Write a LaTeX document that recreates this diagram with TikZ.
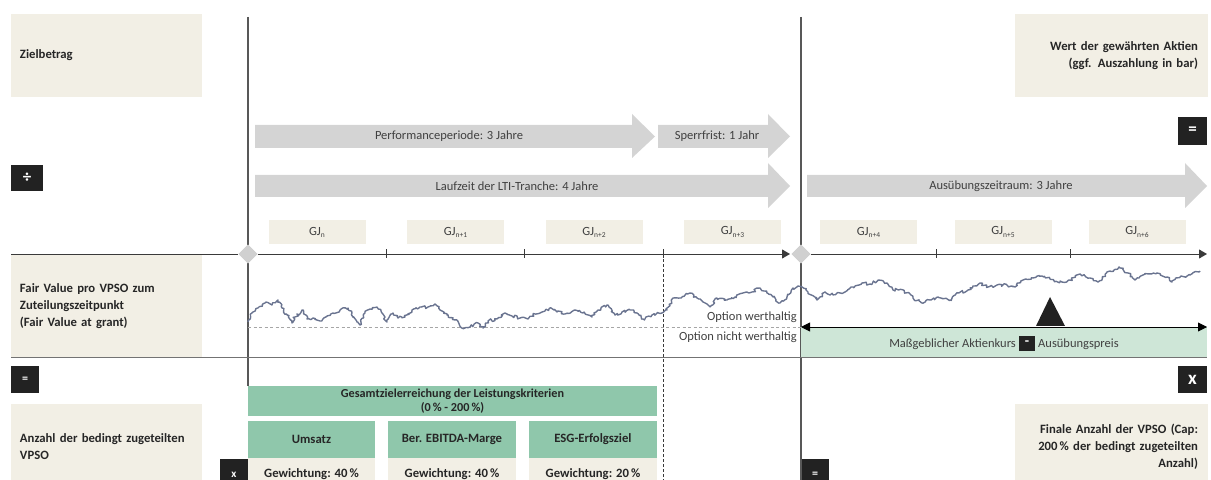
\documentclass[tikz,border=0pt]{standalone}
\usepackage{fontspec}
\setmainfont{Carlito}
\usetikzlibrary{arrows.meta,decorations.pathmorphing,shapes.geometric}
\definecolor{beige}{HTML}{F2EFE5}
\definecolor{greyarrow}{HTML}{D4D4D4}
\definecolor{greenhead}{HTML}{8FC7AB}
\definecolor{greenlight}{HTML}{CEE6D7}
\definecolor{blackbox}{HTML}{222222}
\definecolor{curvecol}{HTML}{6A7490}
\definecolor{axiscol}{HTML}{3A3A3A}
\definecolor{txtdark}{HTML}{262626}
\definecolor{txtgrey}{HTML}{404040}
\definecolor{diamondcol}{HTML}{D0D0D0}
\tikzset{
  boldtxt/.style={font=\fontsize{12.7bp}{17bp}\selectfont\bfseries, text=txtdark},
  regtxt/.style={font=\fontsize{12.5bp}{15bp}\selectfont, text=txtgrey},
  sidebox/.style={boldtxt, fill=beige, minimum width=191bp, text width=173bp, inner xsep=9bp, inner ysep=0pt},
  gjbox/.style={regtxt, fill=beige, minimum width=97bp, minimum height=24bp, inner sep=0pt},
  blkbox/.style={fill=blackbox, text=white, font=\fontsize{14bp}{14bp}\selectfont\bfseries, inner sep=0pt},
  greenbox/.style={boldtxt, fill=greenhead, inner sep=0pt, align=center},
  weightbox/.style={boldtxt, fill=beige, inner sep=0pt, minimum height=32bp},
  arrowbody/.style={fill=greyarrow},
  axisline/.style={draw=axiscol, line width=0.9bp},
  axisarrow/.style={axisline, -{Triangle[length=8bp,width=9bp]}},
  vline/.style={draw=axiscol!85, line width=1.1bp},
  diam/.style={fill=diamondcol, draw=none, shape=diamond, minimum size=0pt, inner sep=0pt},
}
\newcommand{\gjsub}[1]{\raisebox{-0.35ex}{\fontsize{7.5bp}{8bp}\selectfont #1}}
\begin{document}
\begin{tikzpicture}[x=1bp,y=-1bp]
\useasboundingbox (0,0) rectangle (1211,480);

% side boxes
\node[sidebox, minimum height=83bp, align=left] (ziel) at (106.5,55.5) {Zielbetrag};
\node[sidebox, minimum height=83bp, align=right, inner xsep=10bp] (wert) at (1111.5,55.5) {Wert der gewährten Aktien\\(ggf. Auszahlung in bar)};
\node[sidebox, minimum height=102bp, align=left] (fair) at (106.5,306) {Fair Value pro VPSO zum\\Zuteilungszeitpunkt\\(Fair Value at grant)};
\node[sidebox, minimum height=86bp, align=left] (anzahl) at (106.5,447) {Anzahl der bedingt zugeteilten\\VPSO};
\node[sidebox, minimum height=86bp, align=right, inner xsep=10bp] (finale) at (1111.5,447) {Finale Anzahl der VPSO (Cap:\\200\,\% der bedingt zugeteilten\\Anzahl)};

% black operator boxes
\node[blkbox, minimum width=32bp, minimum height=26bp, font=\fontsize{17bp}{17bp}\selectfont\bfseries] (opdiv) at (27,178) {÷};
\node[blkbox, minimum width=29bp, minimum height=28bp, font=\fontsize{17bp}{17bp}\selectfont\bfseries] (opeqtop) at (1192.5,131) {=};
\node[blkbox, minimum width=28bp, minimum height=27bp, font=\fontsize{12bp}{12bp}\selectfont\bfseries] (opeqleft) at (25,379.5) {=};
\node[blkbox, minimum width=29bp, minimum height=27bp, font=\fontsize{19bp}{19bp}\selectfont\bfseries] (opxright) at (1192.5,379.5) {x};
\node[blkbox, minimum width=28bp, minimum height=31bp, font=\fontsize{11bp}{12bp}\selectfont\bfseries] (opxbot) at (234,474.5) {x};
\node[blkbox, minimum width=28bp, minimum height=31bp, font=\fontsize{12bp}{12bp}\selectfont\bfseries] (opeqbot) at (815,474.5) {=};

% vertical lines
\coordinate (vAtop) at (248,17);
\coordinate (vAbot) at (248,386);
\coordinate (vBtop) at (801,17);
\coordinate (vBbot) at (801,490);
\draw[vline] (vAtop) -- (vAbot);
\draw[vline] (vBtop) -- (vBbot);

% grey arrows
\fill[arrowbody] (255,125) -- (632,125) -- (632,114) -- (655,136.5) -- (632,158) -- (632,148) -- (255,148) -- cycle;
\node[regtxt] (perf) at (449,136.5) {Performanceperiode: 3 Jahre};
\fill[arrowbody] (658,125) -- (768,125) -- (768,114) -- (790,136.5) -- (768,158) -- (768,148) -- (658,148) -- cycle;
\node[regtxt] (sperr) at (717,136.5) {Sperrfrist: 1 Jahr};
\fill[arrowbody] (255,175) -- (768,175) -- (768,163) -- (790,186) -- (768,208) -- (768,197) -- (255,197) -- cycle;
\node[regtxt] (lauf) at (517,186) {Laufzeit der LTI-Tranche: 4 Jahre};
\fill[arrowbody] (807,175) -- (1185,175) -- (1185,163) -- (1207,186) -- (1185,208) -- (1185,197) -- (807,197) -- cycle;
\node[regtxt] (ausueb) at (1001,186) {Ausübungszeitraum: 3 Jahre};

% GJ boxes
\node[gjbox] (gj0) at (317,232) {GJ\gjsub{n}};
\node[gjbox] (gj1) at (455.5,232) {GJ\gjsub{n+1}};
\node[gjbox] (gj2) at (594,232) {GJ\gjsub{n+2}};
\node[gjbox] (gj3) at (732.5,232) {GJ\gjsub{n+3}};
\node[gjbox] (gj4) at (868.5,232) {GJ\gjsub{n+4}};
\node[gjbox] (gj5) at (1003,232) {GJ\gjsub{n+5}};
\node[gjbox] (gj6) at (1137,232) {GJ\gjsub{n+6}};

% light green box
\fill[greenlight] (801,327) rectangle (1207,358);

% dashed lines
\coordinate (dashtop) at (663,254);
\coordinate (dashbot) at (663,490);
\draw[axiscol, line width=0.8bp, dash pattern=on 3bp off 2bp] (dashtop) -- (dashbot);
\coordinate (hdashL) at (248,327);
\coordinate (hdashR) at (801,327);
\draw[black!35, line width=0.8bp, dash pattern=on 3bp off 2.5bp] (hdashL) -- (hdashR);

% horizontal separator
\coordinate (sepL) at (11,358);
\coordinate (sepR) at (1207,358);
\draw[black!55, line width=1bp] (sepL) -- (sepR);

% axis
\coordinate (axL) at (11,254);
\coordinate (axM) at (790,254);
\coordinate (axR) at (1207,254);
\node[diam, minimum width=19bp, minimum height=19bp] (dA) at (248,254) {};
\node[diam, minimum width=19bp, minimum height=19bp] (dB) at (801,254) {};
\draw[axisline] (axL) -- (dA.west);
\draw[axisarrow] (dA.east) -- (axM);
\draw[axisarrow] (dB.east) -- (axR);
\foreach \tx in {386,524,663,936,1070}{\draw[axisline] (\tx,249.5) -- (\tx,258.5);}
\node[diam, minimum width=19bp, minimum height=19bp] at (248,254) {};
\node[diam, minimum width=19bp, minimum height=19bp] at (801,254) {};

% stock curve
\pgfmathsetseed{7}
\draw[curvecol, line width=1.4bp, line join=round, decorate, decoration={random steps, segment length=1.8bp, amplitude=1.5bp}]
plot coordinates {(248,322) (253,312) (258,308) (265,303) (272,305) (278,300) (282,308) (287,315) (292,323) (295,317) (302,310) (307,319) (313,318) (320,321) (327,316) (333,313) (340,310) (348,308) (352,313) (357,322) (360,325) (365,313) (370,309) (377,307) (382,313) (387,322) (393,313) (398,318) (405,317) (412,310) (420,307) (428,307) (435,304) (440,310) (447,315) (455,320) (462,328) (470,327) (478,323) (483,328) (488,321) (497,319) (505,313) (512,316) (520,318) (528,319) (533,315) (542,312) (550,308) (557,312) (565,314) (575,310) (583,313) (592,317) (598,310) (607,305) (615,315) (622,312) (630,310) (637,313) (643,319) (652,315) (662,313) (667,310) (673,298) (682,297) (690,293) (697,298) (703,302) (710,307) (717,298) (727,300) (735,297) (743,293) (752,292) (760,288) (767,293) (773,297) (780,303) (787,297) (793,288) (802,287) (808,292) (817,300) (825,292) (830,295) (837,293) (845,292) (853,287) (862,283) (870,284) (878,280) (887,283) (893,290) (903,290) (913,298) (922,303) (930,300) (938,297) (950,300) (958,293) (968,290) (980,283) (988,287) (997,285) (1007,285) (1015,287) (1023,280) (1033,278) (1042,276) (1050,279) (1060,282) (1070,280) (1080,274) (1090,278) (1098,282) (1110,271) (1120,268) (1128,273) (1135,280) (1143,275) (1157,273) (1167,277) (1172,282) (1180,277) (1190,275) (1200,271)};

% option labels
\node[regtxt, anchor=east, inner sep=0pt] (optw) at (797,317) {Option werthaltig};
\node[regtxt, anchor=east, inner sep=0pt] (optnw) at (797,337) {Option nicht werthaltig};

% double arrow and triangle
\coordinate (dblL) at (801,327);
\coordinate (dblR) at (1207,327);
\draw[black, line width=0.9bp, {Triangle[length=9bp,width=9bp]}-{Triangle[length=9bp,width=9bp]}] (dblL) -- (dblR);
\fill[blackbox] (1050,297) -- (1065,326) -- (1036,326) -- cycle;

% price difference label
\node[blkbox, minimum width=16bp, minimum height=15bp] (minusbox) at (1027,343.5) {-};
\node[regtxt, anchor=east, inner sep=0pt] (kurs) at (1016,344) {Maßgeblicher Aktienkurs};
\node[regtxt, anchor=west, inner sep=0pt] (preis) at (1038,344) {Ausübungspreis};

% performance criteria
\node[greenbox, minimum width=409bp, minimum height=30bp, font=\fontsize{12.2bp}{14bp}\selectfont\bfseries] (gesamt) at (452.5,401) {Gesamtzielerreichung der Leistungskriterien\\(0\,\% - 200\,\%)};
\node[greenbox, minimum width=127bp, minimum height=37bp] (umsatz) at (311.5,439.5) {Umsatz};
\node[greenbox, minimum width=128bp, minimum height=37bp] (ebitda) at (452,439.5) {Ber. EBITDA-Marge};
\node[greenbox, minimum width=128bp, minimum height=37bp] (esg) at (593,439.5) {ESG-Erfolgsziel};
\node[weightbox, minimum width=127bp, anchor=north] (w1) at (umsatz.south) {Gewichtung: 40\,\%};
\node[weightbox, minimum width=128bp, anchor=north] (w2) at (ebitda.south) {Gewichtung: 40\,\%};
\node[weightbox, minimum width=128bp, anchor=north] (w3) at (esg.south) {Gewichtung: 20\,\%};
\end{tikzpicture}
\end{document}
